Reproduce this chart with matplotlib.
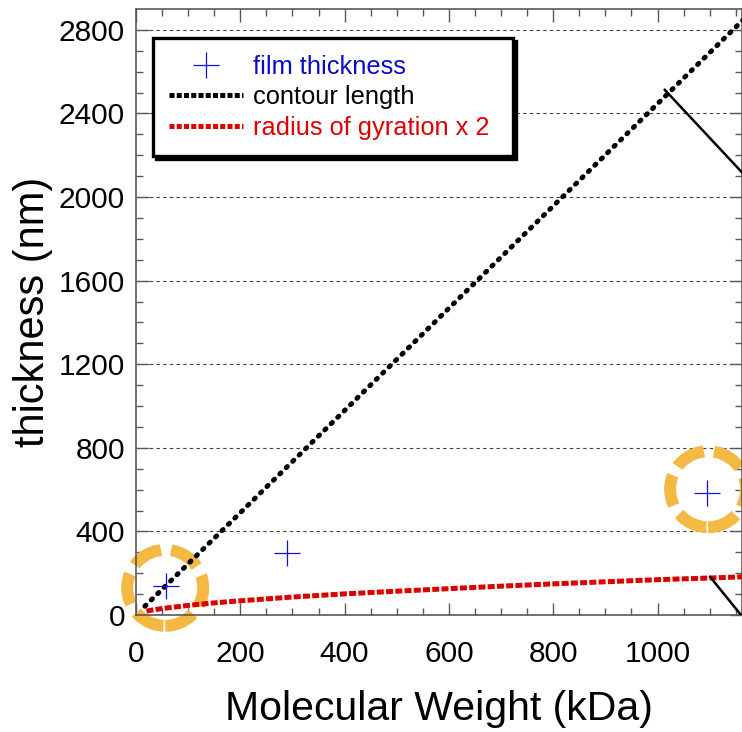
import matplotlib
matplotlib.use('Agg')
import matplotlib.pyplot as plt
from matplotlib.lines import Line2D
from matplotlib.patches import Ellipse
import numpy as np

plt.rcParams['font.family'] = ['Liberation Sans', 'DejaVu Sans']

# film thickness measurements
film_mw = [57, 289, 1095]
film_nm = [139, 296, 583]

# contour length (straight line)
contour_mw = [17, 1165]
contour_nm = [42, 2850]

# 2 x radius of gyration
rg_mw = [20, 50, 100, 150, 200, 300, 400, 500, 600, 700, 800, 900, 1000, 1100, 1165]
rg_nm = [19, 31, 46, 58, 68, 86, 101, 114, 126, 138, 149, 159, 169, 177, 183]

# highlighted points (orange circles)
circle_mw = [56, 1097]
circle_nm = [130, 602]

# annotation lines heading off to the right
arrow_a_mw = [1014, 1165]
arrow_a_nm = [2513, 2110]
arrow_b_mw = [1101, 1165]
arrow_b_nm = [182, -15]

fig = plt.figure(figsize=(7.42, 7.32), dpi=100)
ax = fig.add_axes([136/742, 1-615/732, 606/742, 606/732])

ax.set_xlim(0, 1162)
ax.set_ylim(0, 2900)

ax.set_xticks(np.arange(0, 1001, 200))
ax.set_xticks(np.arange(0, 1162, 50), minor=True)
ax.set_yticks(np.arange(0, 2801, 400))
ax.set_yticks(np.arange(0, 2900, 100), minor=True)

ax.tick_params(which='both', direction='in', top=True, right=True,
               color='0.35', width=1.0)
ax.tick_params(which='major', length=9)
ax.tick_params(which='minor', length=5)
ax.tick_params(axis='y', labelsize=21.5, pad=8)
ax.tick_params(axis='x', labelsize=21.5, pad=18)
for s in ax.spines.values():
    s.set_color('0.35')
    s.set_linewidth(1.2)

# dashed horizontal grid
for yv in np.arange(400, 2801, 400):
    ax.axhline(yv, color='0.25', lw=0.8, dashes=(3, 3), zorder=1)

# pixel scale for drawing round circles in data coordinates
px_x = 1162 / 606.0
px_y = 2900 / 606.0
for cx, cy in zip(circle_mw, circle_nm):
    e = Ellipse((cx, cy), 76 * px_x, 76 * px_y, fill=False,
                edgecolor='#F4B942', lw=8.6, linestyle=(0, (2.6, 0.85)),
                clip_on=False, zorder=2)
    ax.add_patch(e)

ax.plot(contour_mw, contour_nm, color='black', lw=3.6,
        linestyle=(0, (0.3, 1.5)), dash_capstyle='round', zorder=3)
ax.plot(rg_mw, rg_nm, color='#DD0000', lw=3.6,
        linestyle=(0, (1.4, 0.45)), zorder=3)
ax.plot(film_mw, film_nm, linestyle='none', marker='+', color='#1010DD',
        markersize=19, markeredgewidth=0.9, zorder=4)

ax.plot(arrow_a_mw, arrow_a_nm, color='black', lw=1.8, zorder=3)
ax.plot(arrow_b_mw, arrow_b_nm, color='black', lw=1.8, zorder=3)

ax.set_xlabel('Molecular Weight (kDa)', fontsize=29.5, labelpad=16)
ax.set_ylabel('thickness (nm)', fontsize=30, labelpad=4)

handles = [
    Line2D([], [], linestyle='none', marker='+', color='#1010DD',
           markersize=19, markeredgewidth=0.9),
    Line2D([], [], color='black', lw=3.6, linestyle=(0, (1.0, 0.45))),
    Line2D([], [], color='#DD0000', lw=3.6, linestyle=(0, (1.0, 0.45))),
]
labels = ['film thickness', 'contour length', 'radius of gyration x 2 ']
leg = ax.legend(handles, labels, loc='upper left',
                bbox_to_anchor=(0.028, 0.952), fontsize=18.3,
                labelcolor=['#0A0ACC', 'black', '#DD0000'],
                handlelength=2.9, handletextpad=0.4, labelspacing=0.26,
                borderpad=0.65, borderaxespad=0.0, fancybox=False,
                shadow={'color': 'black', 'alpha': 1.0}, numpoints=1,
                framealpha=1.0)
leg.get_frame().set_edgecolor('black')
leg.get_frame().set_linewidth(2.4)
leg.set_zorder(10)

fig.savefig('out.png', dpi=100)
